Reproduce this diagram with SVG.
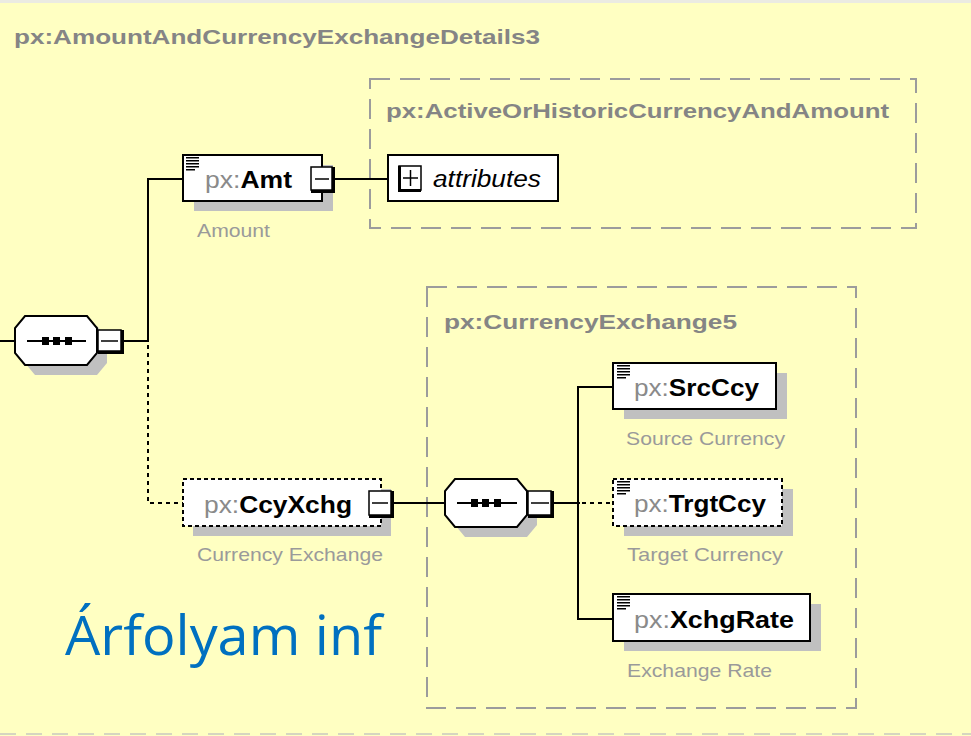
<svg xmlns="http://www.w3.org/2000/svg" width="971" height="736" viewBox="0 0 971 736">
<style>
.bg{fill:#FFFFC2}
.frame{fill:none;stroke:#9c9c9c;stroke-width:2;stroke-dasharray:20 10}
.ttl{font-family:"Liberation Sans",Arial,sans-serif;font-weight:bold;font-size:21px;fill:#858585}
.nm{font-family:"Liberation Sans",Arial,sans-serif;font-size:23px}
.ns{fill:#8a8a8a}
.ln{fill:#000;font-weight:bold}
.desc{font-family:"Liberation Sans",Arial,sans-serif;font-size:19px;fill:#9a9a9a}
.box{fill:#fff;stroke:#000;stroke-width:2}
.dbox{fill:#fff;stroke:#000;stroke-width:2;stroke-dasharray:4 3}
.sh{fill:#c0c0c0}
.btn{fill:#fff;stroke:#000;stroke-width:1.5}
.thk{fill:none;stroke:#000;stroke-width:3}
.thin{fill:none;stroke:#000;stroke-width:1.5}
.conn{fill:none;stroke:#000;stroke-width:2}
.dot{fill:none;stroke:#000;stroke-width:2;stroke-dasharray:4 4}
.ico{stroke:#000;stroke-width:1.5}
</style>
<defs>
<g id="icon">
<line class="ico" x1="0" y1="0.75" x2="13" y2="0.75"/>
<line class="ico" x1="0" y1="3.75" x2="13" y2="3.75"/>
<line class="ico" x1="0" y1="6.75" x2="13" y2="6.75"/>
<line class="ico" x1="0" y1="9.75" x2="13" y2="9.75"/>
<line class="ico" x1="0" y1="12.75" x2="9" y2="12.75"/>
</g>
</defs>
<rect class="bg" x="0" y="0" width="971" height="736"/>
<rect x="0" y="0" width="971" height="3" fill="#ebebe2"/>
<line x1="0" y1="734" x2="971" y2="734" stroke="#d6d6c0" stroke-width="2" stroke-dasharray="16 10"/>

<g id="root-title">
<text class="ttl" x="14" y="44" textLength="526" lengthAdjust="spacingAndGlyphs">px:AmountAndCurrencyExchangeDetails3</text>
</g>

<g id="type-ActiveOrHistoric">
<rect class="frame" x="370" y="79" width="546" height="149"/>
<text class="ttl" x="386" y="118" textLength="503" lengthAdjust="spacingAndGlyphs">px:ActiveOrHistoricCurrencyAndAmount</text>
</g>

<g id="type-CurrencyExchange5">
<rect class="frame" x="427" y="287" width="429" height="421"/>
<text class="ttl" x="444" y="329" textLength="293" lengthAdjust="spacingAndGlyphs">px:CurrencyExchange5</text>
</g>

<g id="connectors">
<line class="conn" x1="0" y1="341" x2="15" y2="341"/>
<line class="conn" x1="124" y1="341" x2="148" y2="341"/>
<polyline class="conn" points="148,342 148,179 183,179"/>
<polyline class="dot" points="148,345 148,503 183,503"/>
<line class="conn" x1="335" y1="179" x2="388" y2="179"/>
<line class="conn" x1="394" y1="503" x2="445" y2="503"/>
<line class="conn" x1="554" y1="503" x2="580" y2="503"/>
<polyline class="conn" points="613,387 578,387 578,619 613,619"/>
<line class="dot" x1="582" y1="503" x2="613" y2="503"/>
</g>

<g id="seq1">
<polygon class="sh" points="35,326 97,326 107,338 107,363 97,375 35,375 25,363 25,338"/>
<polygon class="box" points="25,316 87,316 97,328 97,353 87,365 25,365 15,353 15,328"/>
<line class="conn" x1="27" y1="341" x2="86" y2="341"/>
<rect x="42" y="337" width="7" height="8" fill="#000"/>
<rect x="53" y="337" width="7" height="8" fill="#000"/>
<rect x="65" y="337" width="7" height="8" fill="#000"/>
<rect class="btn" x="98" y="330" width="23" height="21"/>
<polyline class="thk" points="122.5,330 122.5,352.5 98,352.5"/>
<line class="thin" x1="101" y1="341" x2="118" y2="341"/>
</g>

<g id="Amt">
<rect class="sh" x="194" y="165" width="139" height="46"/>
<rect class="box" x="183" y="155" width="139" height="46"/>
<use href="#icon" x="186" y="157"/>
<text class="nm" x="205" y="188" textLength="87" lengthAdjust="spacingAndGlyphs"><tspan class="ns">px:</tspan><tspan class="ln">Amt</tspan></text>
<rect class="btn" x="311" y="167" width="21" height="23"/>
<polyline class="thk" points="333.5,167 333.5,191.5 311,191.5"/>
<line class="thin" x1="315" y1="179" x2="329" y2="179"/>
<text class="desc" x="197" y="237" textLength="73" lengthAdjust="spacingAndGlyphs">Amount</text>
</g>

<g id="attributes">
<rect class="box" x="388" y="155" width="170" height="46"/>
<rect class="btn" x="399" y="166" width="22" height="24"/>
<polyline class="thk" points="399.5,166 399.5,190.5 421,190.5"/>
<line class="thin" x1="403" y1="178" x2="418" y2="178"/>
<line class="thin" x1="410.5" y1="170" x2="410.5" y2="186"/>
<text x="433" y="187" font-family="'Liberation Sans',Arial,sans-serif" font-size="23" font-style="italic" fill="#000" textLength="108" lengthAdjust="spacingAndGlyphs">attributes</text>
</g>

<g id="CcyXchg">
<rect class="sh" x="193" y="489" width="198" height="47"/>
<rect class="dbox" x="183" y="479" width="198" height="47"/>
<text class="nm" x="204" y="513" textLength="148" lengthAdjust="spacingAndGlyphs"><tspan class="ns">px:</tspan><tspan class="ln">CcyXchg</tspan></text>
<rect class="btn" x="369" y="491" width="22" height="24"/>
<polyline class="thk" points="392.5,491 392.5,516.5 369,516.5"/>
<line class="thin" x1="372" y1="503" x2="388" y2="503"/>
<text class="desc" x="197" y="561" textLength="186" lengthAdjust="spacingAndGlyphs">Currency Exchange</text>
</g>

<g id="seq2">
<polygon class="sh" points="465,489 527,489 537,501 537,525 527,537 465,537 455,525 455,501"/>
<polygon class="box" points="455,479 517,479 527,491 527,515 517,527 455,527 445,515 445,491"/>
<line class="conn" x1="457" y1="503" x2="517" y2="503"/>
<rect x="471" y="499" width="7" height="8" fill="#000"/>
<rect x="482" y="499" width="7" height="8" fill="#000"/>
<rect x="494" y="499" width="7" height="8" fill="#000"/>
<rect class="btn" x="528" y="491" width="23" height="24"/>
<polyline class="thk" points="552.5,491 552.5,516.5 528,516.5"/>
<line class="thin" x1="531" y1="503" x2="549" y2="503"/>
</g>

<g id="SrcCcy">
<rect class="sh" x="624" y="373" width="163" height="46"/>
<rect class="box" x="613" y="363" width="163" height="46"/>
<use href="#icon" x="617" y="365"/>
<text class="nm" x="634" y="396" textLength="125" lengthAdjust="spacingAndGlyphs"><tspan class="ns">px:</tspan><tspan class="ln">SrcCcy</tspan></text>
<text class="desc" x="626" y="445" textLength="159" lengthAdjust="spacingAndGlyphs">Source Currency</text>
</g>

<g id="TrgtCcy">
<rect class="sh" x="624" y="489" width="169" height="47"/>
<rect class="dbox" x="613" y="479" width="169" height="47"/>
<use href="#icon" x="617" y="481"/>
<text class="nm" x="634" y="512" textLength="132" lengthAdjust="spacingAndGlyphs"><tspan class="ns">px:</tspan><tspan class="ln">TrgtCcy</tspan></text>
<text class="desc" x="627" y="561" textLength="156" lengthAdjust="spacingAndGlyphs">Target Currency</text>
</g>

<g id="XchgRate">
<rect class="sh" x="624" y="604" width="197" height="47"/>
<rect class="box" x="613" y="594" width="197" height="47"/>
<use href="#icon" x="617" y="596"/>
<text class="nm" x="634" y="628" textLength="160" lengthAdjust="spacingAndGlyphs"><tspan class="ns">px:</tspan><tspan class="ln">XchgRate</tspan></text>
<text class="desc" x="627" y="677" textLength="145" lengthAdjust="spacingAndGlyphs">Exchange Rate</text>
</g>

<g id="caption">
<text x="65" y="655" font-family="'Open Sans','Noto Sans',sans-serif" font-size="54" fill="#0070C0" textLength="317" lengthAdjust="spacingAndGlyphs">Árfolyam inf</text>
</g>
</svg>
